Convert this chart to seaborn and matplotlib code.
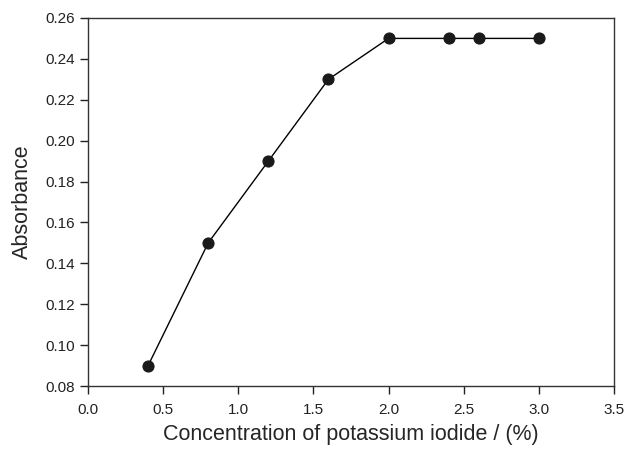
import seaborn as sns
import matplotlib.pyplot as plt
import pandas as pd

ki_conc = [0.4, 0.8, 1.2, 1.6, 2.0, 2.4, 2.6, 3.0]
absorbance = [0.09, 0.15, 0.19, 0.23, 0.25, 0.25, 0.25, 0.25]

df = pd.DataFrame({'conc': ki_conc, 'abs': absorbance})

sns.set_theme(style="ticks")
plt.rcParams['font.family'] = ['Liberation Sans', 'DejaVu Sans']

fig = plt.figure(figsize=(6.25, 4.49), dpi=100)
ax = fig.add_axes([0.1408, 0.1403, 0.8416, 0.8197])

sns.lineplot(data=df, x='conc', y='abs', ax=ax, color='black', linewidth=1,
             marker='o', markersize=8, markeredgecolor='#1a1a1a',
             markerfacecolor='#1a1a1a')

ax.set_xlim(0, 3.5)
ax.set_ylim(0.08, 0.26)
ax.set_xticks([0.0, 0.5, 1.0, 1.5, 2.0, 2.5, 3.0, 3.5])
ax.set_yticks([0.08, 0.10, 0.12, 0.14, 0.16, 0.18, 0.20, 0.22, 0.24, 0.26])
ax.xaxis.set_major_formatter(plt.FormatStrFormatter('%.1f'))
ax.yaxis.set_major_formatter(plt.FormatStrFormatter('%.2f'))
ax.tick_params(direction='out', length=6, width=1, labelsize=11, colors='#222222')
ax.tick_params(axis='x', pad=6)
for s in ax.spines.values():
    s.set_linewidth(1)
    s.set_color('#333333')

ax.set_xlabel('Concentration of potassium iodide / (%)', fontsize=15.5, labelpad=5)
ax.set_ylabel('Absorbance', fontsize=15.5, labelpad=9)

fig.savefig('out.png', dpi=100)
